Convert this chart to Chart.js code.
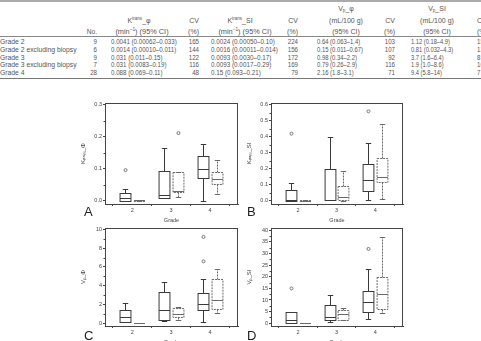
<!DOCTYPE html>
<html>
<head>
<meta charset="utf-8">
<script src="https://cdn.jsdelivr.net/npm/chart.js@4.4.1/dist/chart.umd.min.js"></script>
<style>
  html, body { margin: 0; padding: 0; background: #fff; overflow: hidden; width: 481px; height: 341px; }
  #page { position: relative; width: 481px; height: 341px; }
  .t { position: absolute; font-family: "Liberation Sans", Arial, sans-serif; font-size: 7px; line-height: 8px; color: #555; white-space: nowrap; }
  .t sup { font-size: 4.5px; vertical-align: 3px; line-height: 0; }
  .t sub { font-size: 4.5px; vertical-align: -1px; line-height: 0; }
  .rule { position: absolute; left: 0; width: 481px; }
  .panel { position: absolute; }
  .letter { position: absolute; font-family: "Liberation Sans", Arial, sans-serif; font-size: 13px; line-height: 13px; color: #222; z-index: 2; }
</style>
</head>
<body>
<div id="page">
  <div class="rule" style="top:0;height:2px;background:#aaa"></div>
  <div class="rule" style="top:36px;height:1px;background:#888"></div>
  <div class="rule" style="top:78px;height:1px;background:#777"></div>
  <div id="table"></div>

  <div class="panel" style="left:80px;top:98px"><canvas id="chartA" width="160" height="126"></canvas></div>
  <div class="panel" style="left:246px;top:98px"><canvas id="chartB" width="159" height="126"></canvas></div>
  <div class="panel" style="left:80px;top:223px"><canvas id="chartC" width="160" height="123"></canvas></div>
  <div class="panel" style="left:246px;top:223px"><canvas id="chartD" width="159" height="123"></canvas></div>

  <div class="letter" style="left:84px;top:205px">A</div>
  <div class="letter" style="left:247px;top:205px">B</div>
  <div class="letter" style="left:84px;top:329px">C</div>
  <div class="letter" style="left:247px;top:329px">D</div>
</div>
<script>
  // table rows
  const rowLabels = ['Grade 2', 'Grade 2 excluding biopsy', 'Grade 3', 'Grade 3 excluding biopsy', 'Grade 4'];
  const nPatients = [9, 6, 9, 7, 28];
  const ktransPhiCI = ['0.0041 (0.00062–0.033)', '0.0014 (0.00010–0.011)', '0.031 (0.011–0.15)', '0.031 (0.0083–0.19)', '0.088 (0.069–0.11)'];
  const ktransPhiCV = [165, 144, 122, 116, 48];
  const ktransSiCI = ['0.0024 (0.00050–0.10)', '0.0016 (0.00011–0.014)', '0.0093 (0.0030–0.17)', '0.0093 (0.0017–0.29)', '0.15 (0.093–0.21)'];
  const ktransSiCV = [224, 156, 172, 169, 79];
  const vpPhiCI = ['0.64 (0.063–1.4)', '0.15 (0.011–0.67)', '0.98 (0.34–2.2)', '0.79 (0.26–2.9)', '2.16 (1.8–3.1)'];
  const vpPhiCV = [103, 107, 92, 116, 71];
  const vpSiCI = ['1.12 (0.18–4.9)', '0.81 (0.032–4.3)', '3.7 (1.6–6.4)', '1.9 (1.0–8.6)', '9.4 (5.8–14)'];
  const vpSiCV = [15, 13, 8, 10, 7];

  // box plots: [min, q1, median, q3, max] per grade
  const grades = [2, 3, 4];
  const ktransPhiAll = [[0, 0, 0.008, 0.025, 0.036], [0.008, 0.01, 0.018, 0.093, 0.165], [0, 0.07, 0.098, 0.14, 0.178]];
  const ktransPhiExcl = [[0, 0, 0.001, 0.002, 0.002], [0.012, 0.027, 0.032, 0.09, 0.09], [0.02, 0.053, 0.068, 0.09, 0.128]];
  const ktransPhiOutAll = [[0.096], [], []];
  const ktransPhiOutExcl = [[], [0.212], []];
  const ktransPhiTicks = [0, 0.1, 0.2, 0.3];

  const ktransSiAll = [[0, 0, 0.002, 0.065, 0.113], [0.003, 0.005, 0.005, 0.2, 0.398], [0.005, 0.06, 0.133, 0.23, 0.363]];
  const ktransSiExcl = [[0, 0, 0.001, 0.003, 0.003], [0, 0.005, 0.025, 0.095, 0.187], [0.012, 0.12, 0.152, 0.27, 0.478]];
  const ktransSiOutAll = [[0.42], [], [0.56]];
  const ktransSiOutExcl = [[], [], []];
  const ktransSiTicks = [0, 0.1, 0.2, 0.3, 0.4, 0.5, 0.6];

  const vpPhiAll = [[0.1, 0.15, 0.65, 1.4, 2.1], [0.25, 0.3, 1.4, 3.3, 4.35], [0.15, 1.45, 2.0, 3.25, 4.75]];
  const vpPhiExcl = [[0, 0, 0.02, 0.05, 0.05], [0.3, 0.65, 0.95, 1.6, 1.75], [1.05, 1.5, 2.45, 4.75, 5.75]];
  const vpPhiOutAll = [[], [], [6.6, 9.2]];
  const vpPhiOutExcl = [[], [], []];
  const vpPhiTicks = [0, 2, 4, 6, 8, 10];

  const vpSiAll = [[0.2, 0.3, 1.2, 5, 5], [0.6, 1.2, 2.8, 8, 12.2], [2, 5, 9, 14, 23.5]];
  const vpSiExcl = [[0, 0, 0.1, 0.2, 0.2], [1.5, 1.5, 3.8, 5.5, 6.5], [4.2, 6, 12.5, 20, 37]];
  const vpSiOutAll = [[15], [], [32]];
  const vpSiOutExcl = [[], [], []];
  const vpSiTicks = [0, 5, 10, 15, 20, 25, 30, 35, 40];

  // ---- table ----
  const table = document.getElementById('table');
  // sx = horizontal squeeze, the printed table uses a condensed face
  const cell = (html, x, yc, align, sx) => {
    const d = document.createElement('div');
    d.className = 't';
    d.innerHTML = html;
    d.style.left = x + 'px';
    d.style.top = (yc - 4) + 'px';
    const s = ' scaleX(' + (sx || 0.88) + ')';
    if (align === 'r') { d.style.transformOrigin = '100% 50%'; d.style.transform = 'translateX(-100%)' + s; }
    else if (align === 'c') { d.style.transformOrigin = '50% 50%'; d.style.transform = 'translateX(-50%)' + s; }
    else { d.style.transformOrigin = '0 50%'; d.style.transform = s; }
    table.appendChild(d);
  };
  const rowY = [42.3, 50, 57.5, 65, 72.7];
  cell('No.', 97, 31.5, 'r', 0.95);
  cell('K<sup>trans</sup>_φ', 139, 20.5, 'c', 1);
  cell('(min<sup>−1</sup>) (95% CI)', 142, 31.5, 'c', 1.05);
  cell('CV', 199, 20.5, 'r', 1); cell('(%)', 199, 31.5, 'r', 1);
  cell('K<sup>trans</sup>_SI', 240, 20.5, 'c', 1);
  cell('(min<sup>−1</sup>) (95% CI)', 245, 31.5, 'c', 1.05);
  cell('CV', 298, 20.5, 'r', 1); cell('(%)', 298, 31.5, 'r', 1);
  cell('V<sub>p</sub>_φ', 346, 9, 'c', 1);
  cell('(mL/100 g)', 346, 20.5, 'c', 1); cell('(95% CI)', 346, 31.5, 'c', 1);
  cell('CV', 395, 20.5, 'r', 1); cell('(%)', 395, 31.5, 'r', 1);
  cell('V<sub>p</sub>_SI', 437, 9, 'c', 1);
  cell('(mL/100 g)', 437, 20.5, 'c', 1); cell('(95% CI)', 437, 31.5, 'c', 1);
  cell('CV', 477, 20.5, 'l', 1); cell('(%)', 477, 31.5, 'l', 1);
  rowLabels.forEach((lab, i) => {
    const y = rowY[i];
    cell(lab, 0, y, 'l', 0.97);
    cell(nPatients[i], 97, y, 'r');
    cell(ktransPhiCI[i], 111, y, 'l', 0.88);
    cell(ktransPhiCV[i], 199, y, 'r');
    cell(ktransSiCI[i], 211, y, 'l', 0.9);
    cell(ktransSiCV[i], 298, y, 'r');
    cell(vpPhiCI[i], 317, y, 'l', 0.84);
    cell(vpPhiCV[i], 395, y, 'r');
    cell(vpSiCI[i], 411, y, 'l', 0.82);
    cell(vpSiCV[i], 477, y, 'l');
  });

  // ---- charts ----
  Chart.defaults.font.family = '"Liberation Sans", Arial, sans-serif';
  Chart.defaults.color = '#444';

  // frame, minor ticks, whiskers, medians, outliers drawn at the bar positions given by the library
  const boxPlugin = {
    id: 'boxes',
    beforeDatasetsDraw(chart) {
      const { ctx, chartArea: a, scales: { y } } = chart;
      ctx.save();
      ctx.strokeStyle = '#444';
      ctx.lineWidth = 1;
      ctx.strokeRect(Math.round(a.left) + 0.5, Math.round(a.top) + 0.5, Math.round(a.right - a.left) - 1, Math.round(a.bottom - a.top));
      const t = y.ticks;
      for (let k = 0; k + 1 < t.length; k++) {
        const py = Math.round(y.getPixelForValue((t[k].value + t[k + 1].value) / 2)) + 0.5;
        ctx.beginPath(); ctx.moveTo(a.left - 1.5, py); ctx.lineTo(a.left, py); ctx.stroke();
      }
      ctx.restore();
    },
    afterDatasetsDraw(chart) {
      const { ctx, scales: { y } } = chart;
      chart.data.datasets.forEach((ds, d) => {
        const meta = chart.getDatasetMeta(d);
        meta.data.forEach((bar, i) => {
          const [mn, q1, md, q3, mx] = ds.stats[i];
          const px = Math.round(bar.x) + 0.5;
          const half = bar.width / 2;
          const cap = bar.width / 4;
          const Y = v => Math.round(y.getPixelForValue(v)) + 0.5;
          ctx.save();
          ctx.strokeStyle = ds.lineColor;
          ctx.lineWidth = 1;
          ctx.setLineDash(ds.dash);
          ctx.strokeRect(px - half, Y(q3), bar.width, Y(q1) - Y(q3));
          ctx.beginPath();
          ctx.moveTo(px, Y(q3)); ctx.lineTo(px, Y(mx));
          ctx.moveTo(px, Y(q1)); ctx.lineTo(px, Y(mn));
          ctx.stroke();
          ctx.setLineDash([]);
          ctx.beginPath();
          ctx.moveTo(px - half, Y(md)); ctx.lineTo(px + half, Y(md));
          ctx.moveTo(px - cap, Y(mx)); ctx.lineTo(px + cap, Y(mx));
          ctx.moveTo(px - cap, Y(mn)); ctx.lineTo(px + cap, Y(mn));
          ctx.stroke();
          ctx.strokeStyle = '#777';
          ds.outliers[i].forEach(v => {
            ctx.beginPath();
            ctx.arc(px, y.getPixelForValue(v), 1.5, 0, 2 * Math.PI);
            ctx.stroke();
          });
          ctx.restore();
        });
      });
    }
  };

  const createPanel = (id, all, excl, outAll, outExcl, yTicks, yMin, yMax, yTitle, fmt) => {
    const toBars = stats => grades.map((g, i) => ({ x: g, y: [stats[i][1], stats[i][3]] }));
    new Chart(document.getElementById(id), {
      type: 'bar',
      data: {
        datasets: [
          { label: 'All', data: toBars(all), stats: all, outliers: outAll, lineColor: '#3a3a3a', dash: [],
            backgroundColor: '#fff', borderWidth: 0 },
          { label: 'Excluding biopsy', data: toBars(excl), stats: excl, outliers: outExcl, lineColor: '#6a6a6a', dash: [2, 1],
            backgroundColor: '#fff', borderWidth: 0 }
        ]
      },
      options: {
        responsive: false,
        animation: false,
        events: [],
        categoryPercentage: 0.7,
        barPercentage: 0.8,
        layout: { padding: { top: 5, right: 2, left: 0, bottom: 0 } },
        plugins: { legend: { display: false }, tooltip: { enabled: false } },
        scales: {
          x: {
            type: 'linear', min: 1.3, max: 4.72, offset: false,
            afterBuildTicks: s => { s.ticks = grades.map(v => ({ value: v })); },
            ticks: { font: { size: 5.5 }, padding: 1, maxRotation: 0 },
            grid: { drawOnChartArea: false, tickLength: 2, color: '#444' },
            border: { color: '#444' },
            title: { display: true, text: 'Grade', font: { size: 5.5 }, padding: { top: 1, bottom: 0 } },
            afterFit: s => { s.height = 20; }
          },
          y: {
            min: yMin, max: yMax,
            afterBuildTicks: s => { s.ticks = yTicks.map(v => ({ value: v })); },
            ticks: { font: { size: 5.5 }, padding: 1, callback: fmt },
            grid: { drawOnChartArea: false, tickLength: 2, color: '#444' },
            border: { color: '#444' },
            title: { display: true, text: yTitle, font: { size: 6 }, padding: 0 },
            afterFit: s => { s.width = 25; }
          }
        }
      },
      plugins: [boxPlugin]
    });
  };

  const oneDec = v => v.toFixed(1);
  const whole = v => String(v);
  createPanel('chartA', ktransPhiAll, ktransPhiExcl, ktransPhiOutAll, ktransPhiOutExcl, ktransPhiTicks, -0.01, 0.306, 'Kₜᵣₐₙₛ_Φ', oneDec);
  createPanel('chartB', ktransSiAll, ktransSiExcl, ktransSiOutAll, ktransSiOutExcl, ktransSiTicks, -0.02, 0.612, 'Kₜᵣₐₙₛ_SI', oneDec);
  createPanel('chartC', vpPhiAll, vpPhiExcl, vpPhiOutAll, vpPhiOutExcl, vpPhiTicks, -0.3, 10.15, 'Vₚ_Φ', whole);
  createPanel('chartD', vpSiAll, vpSiExcl, vpSiOutAll, vpSiOutExcl, vpSiTicks, -1.2, 41, 'Vₚ_SI', whole);
</script>
</body>
</html>
